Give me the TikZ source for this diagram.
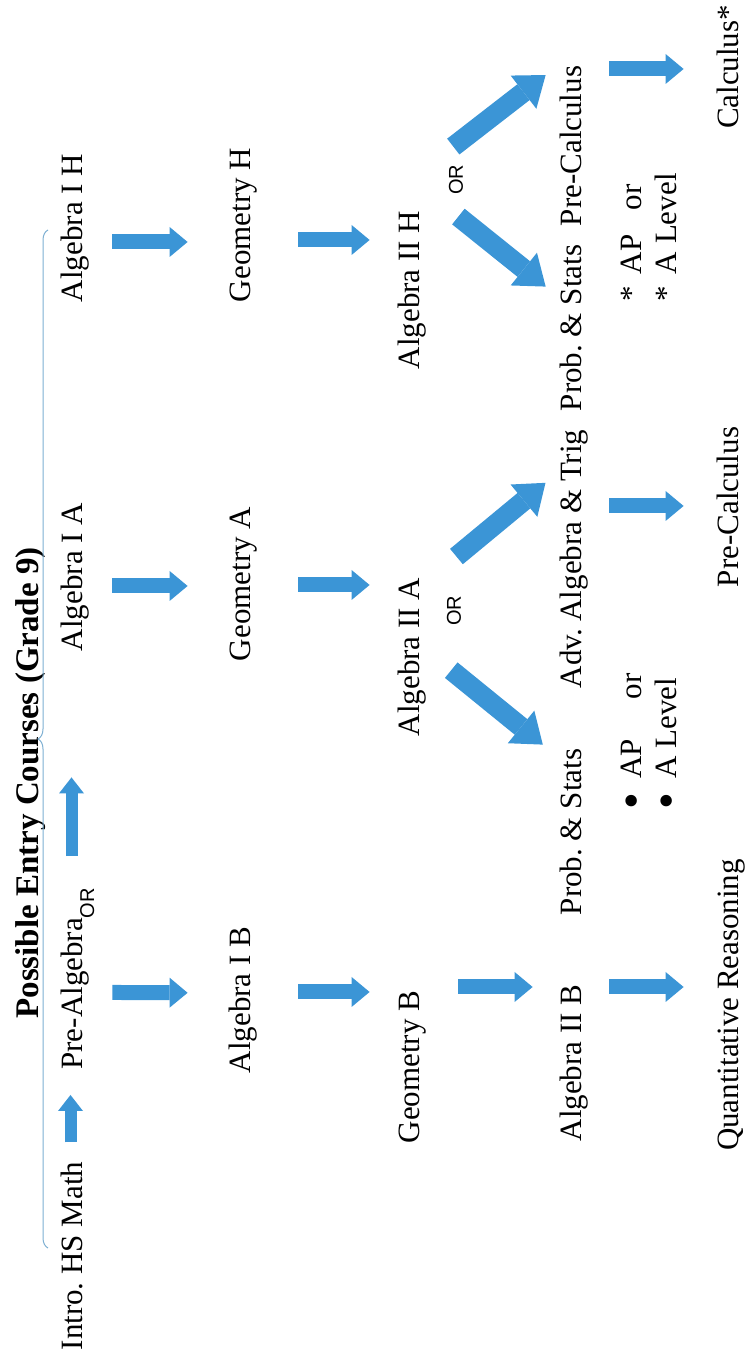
\documentclass[tikz,border=0pt]{standalone}
\usepackage{fontspec}
\setmainfont{Liberation Serif}
\newfontfamily\orfamily{Liberation Sans}
\usepackage{tikz}
\usetikzlibrary{arrows.meta, decorations.pathreplacing}
\definecolor{arrowblue}{RGB}{59,149,214}
\definecolor{braceblue}{RGB}{125,175,210}
\newcommand{\coursefont}{\fontsize{15.5}{18}\selectfont}
\newcommand{\orfont}{\fontsize{10}{11}\selectfont\orfamily}
\newcommand{\bigdot}{\raisebox{-3pt}{\fontsize{24}{24}\selectfont\textbullet}}
\frenchspacing

\begin{document}
\begin{tikzpicture}[x=0.5pt, y=0.5pt, rotate=90, transform shape,
		course/.style={font=\coursefont, inner sep=0pt, text height=11pt, text depth=3.5pt, anchor=base},
		note/.style={course, anchor=base west},
		orlabel/.style={font=\orfont, inner sep=0pt},
		downarr/.style={arrowblue, line width=7.5pt, -{Triangle[length=9pt, width=15pt, line width=0pt]}},
		rightarr/.style={arrowblue, line width=6pt, -{Triangle[length=8pt, width=12.5pt, line width=0pt]}},
		diagarr/.style={arrowblue, line width=10pt, -{Triangle[length=14pt, width=21pt, line width=0pt]}}]
			\useasboundingbox (0,0) rectangle (1359,-746);
			
			\node[font=\fontsize{16.5}{19}\selectfont\bfseries, anchor=base] (title) at (576,-38) {Possible Entry Courses (Grade 9)};
			\draw[braceblue, line width=0.5pt, decorate, decoration={brace, amplitude=5pt}] (111,-48) -- (1129,-48);
			
			\node[course] (intro) at (103,-82) {Intro. HS Math};
			\node[course, anchor=base west] (prealg) at (289,-82) {Pre-Algebra\raisebox{-6pt}{\orfont OR}};
			\node[course] (alg1a) at (782,-82) {Algebra I A};
			\node[course] (alg1h) at (1131,-82) {Algebra I H};
			
			\node[course] (alg1b) at (359,-250) {Algebra I B};
			\node[course] (geoma) at (775,-250) {Geometry A};
			\node[course] (geomh) at (1134,-250) {Geometry H};
			
			\node[course] (geomb) at (292,-419) {Geometry B};
			\node[course] (alg2a) at (702,-419) {Algebra II A};
			\node[course] (alg2h) at (1069,-419) {Algebra II H};
			\node[orlabel] (orA) at (748,-454) {OR};
			\node[orlabel] (orH) at (1179,-456) {OR};
			
			\node[course] (alg2b) at (296,-581) {Algebra II B};
			\node[course] (probA) at (527,-581) {Prob. \& Stats};
			\node[course] (adv) at (800,-581) {Adv. Algebra \& Trig};
			\node[course] (probH) at (1031,-581) {Prob. \& Stats};
			\node[course] (precalcH) at (1213,-581) {Pre-Calculus};
			
			\node[note] (apA) at (549,-641) {\bigdot\hspace{7pt}AP\hspace{20pt}or};
			\node[note] (levelA) at (549,-676) {\bigdot\hspace{7pt}A Level};
			\node[note] (apH) at (1057,-641) {*\hspace{6pt}AP\hspace{12pt}or};
			\node[note] (levelH) at (1057,-676) {*\hspace{6pt}A Level};
			
			\node[course] (qr) at (354,-738) {Quantitative Reasoning};
			\node[course] (precalcA) at (852,-738) {Pre-Calculus};
			\node[course] (calc) at (1292,-738) {Calculus*};
			
			\draw[rightarr, shorten <=9.5pt, shorten >=12.5pt] ([yshift=2pt]intro.east) -- ([yshift=2pt]prealg.west);
			\draw[rightarr, shorten <=15.75pt, shorten >=63pt] ([yshift=1.5pt]prealg.east) -- ([yshift=1.5pt]alg1a.west);
			
			\draw[downarr, shorten <=11.5pt, shorten >=20pt] ([xshift=-6.75pt]prealg.south) -- ([xshift=3.5pt]alg1b.north);
			\draw[downarr, shorten <=11.5pt, shorten >=20pt] ([xshift=-4.5pt]alg1a.south) -- ([xshift=-1pt]geoma.north);
			\draw[downarr, shorten <=11.5pt, shorten >=20pt] ([xshift=-7pt]alg1h.south) -- ([xshift=-8.5pt]geomh.north);
			
			\draw[downarr, shorten <=20.5pt, shorten >=13.5pt] ([xshift=4pt]alg1b.south) -- ([xshift=37.5pt]geomb.north);
			\draw[downarr, shorten <=20.5pt, shorten >=13.5pt] ([xshift=-0.5pt]geoma.south) -- ([xshift=36pt]alg2a.north);
			\draw[downarr, shorten <=20.5pt, shorten >=13.5pt] ([xshift=-7.5pt]geomh.south) -- ([xshift=25pt]alg2h.north);
			
			\draw[downarr, shorten <=16pt, shorten >=13pt] ([xshift=40pt]geomb.south) -- ([xshift=38pt]alg2b.north);
			\draw[diagarr, shorten <=16pt, shorten >=10.2pt] ([xshift=3.5pt]alg2a.south) -- ([xshift=-4.5pt]probA.north east);
			\draw[diagarr, shorten <=19.5pt, shorten >=8.5pt] ([xshift=-2pt]alg2a.south east) -- ([xshift=43.5pt]adv.north);
			\draw[diagarr, shorten <=20.5pt, shorten >=8.3pt] ([xshift=9.75pt]alg2h.south east) -- ([xshift=15.5pt]probH.north);
			\draw[diagarr, shorten <=17pt, shorten >=8.2pt] ([xshift=21.5pt]alg2h.south east) -- ([xshift=40.5pt]precalcH.north);
			
			\draw[downarr, shorten <=10.5pt, shorten >=16pt] ([xshift=38pt]alg2b.south) -- ([xshift=9pt]qr.north);
			\draw[downarr, shorten <=10.5pt, shorten >=16pt] ([xshift=26.5pt]adv.south) -- ([xshift=0.5pt]precalcA.north);
			\draw[downarr, shorten <=10.5pt, shorten >=16pt] ([xshift=38.5pt]precalcH.south) -- ([xshift=-1pt]calc.north);
			
		\end{tikzpicture}
\end{document}
